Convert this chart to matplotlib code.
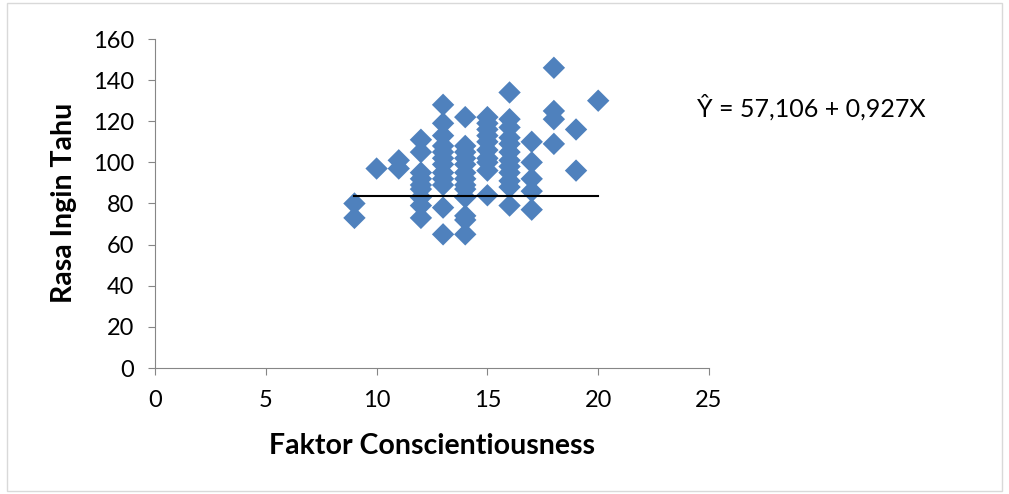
import numpy as np
import matplotlib.pyplot as plt
from matplotlib.patches import Rectangle

plt.rcParams['font.family'] = ['Lato', 'DejaVu Sans']

# Faktor Conscientiousness (x) and Rasa Ingin Tahu (y)
x9 = [9, 9]
y9 = [80, 73]
x10 = [10]
y10 = [97]
x11 = [11, 11]
y11 = [101, 97]
x12 = [12] * 9
y12 = [111, 105, 95, 92, 89, 87, 83, 79, 73]
x13 = [13] * 12
y13 = [128, 119, 113, 108, 105, 102, 99, 95, 92, 89, 78, 65]
x14 = [14] * 13
y14 = [122, 108, 105, 102, 99, 95, 92, 89, 87, 83, 74, 72, 65]
x15 = [15] * 10
y15 = [122, 119, 116, 113, 110, 106, 102, 100, 96, 84]
x16 = [16] * 12
y16 = [134, 121, 117, 112, 109, 105, 101, 98, 95, 91, 88, 79]
x17 = [17] * 5
y17 = [110, 100, 92, 86, 77]
x18 = [18] * 4
y18 = [146, 125, 121, 109]
x19 = [19, 19]
y19 = [116, 96]
x20 = [20]
y20 = [130]

x = np.array(x9 + x10 + x11 + x12 + x13 + x14 + x15 + x16 + x17 + x18 + x19 + x20)
y = np.array(y9 + y10 + y11 + y12 + y13 + y14 + y15 + y16 + y17 + y18 + y19 + y20)

# line as drawn in the chart
line_x = [9, 20]
line_y = [83.5, 83.5]

fig = plt.figure(figsize=(10.09, 4.94), dpi=100)
ax = fig.add_axes([155 / 1009, 1 - 368 / 494, (709 - 155) / 1009, (368 - 39) / 494])

ax.scatter(x, y, marker='D', s=130, color='#4F81BD', edgecolors='none', zorder=2)
ax.plot(line_x, line_y, color='black', linewidth=1.5, zorder=3)

ax.set_xlim(0, 25)
ax.set_ylim(0, 160)
ax.set_xticks(np.arange(0, 26, 5))
ax.set_yticks(np.arange(0, 161, 20))
for s in ['top', 'right']:
    ax.spines[s].set_visible(False)
for s in ['left', 'bottom']:
    ax.spines[s].set_color('#868686')
ax.tick_params(labelsize=17, color='#868686', length=5)
ax.tick_params(axis='x', pad=11)
ax.tick_params(axis='y', pad=10)
ax.set_xlabel('Faktor Conscientiousness', fontsize=20.5, fontweight='bold', va='center')
ax.set_ylabel('Rasa Ingin Tahu', fontsize=20.5, fontweight='bold', va='center')
ax.xaxis.set_label_coords((432 - 155) / 554, (368 - 446) / 329)
ax.yaxis.set_label_coords((64 - 155) / 554, (368 - 203) / 329)

fig.text(697 / 1009, 1 - 107 / 494, 'Ŷ = 57,106 + 0,927X', fontsize=18, va='center', ha='left')

fig.patches.append(Rectangle((7 / 1009, 3 / 494), 995 / 1009, 488 / 494, transform=fig.transFigure,
                             fill=False, edgecolor='#D9D9D9', linewidth=1))

fig.savefig('out.png', dpi=100)
